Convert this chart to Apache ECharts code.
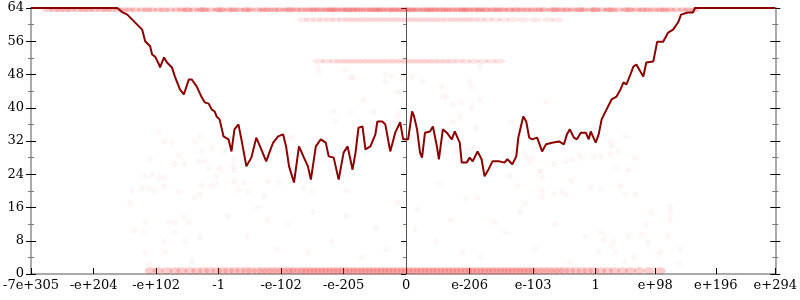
<!DOCTYPE html>
<html><head><meta charset="utf-8">
<script src="https://cdn.jsdelivr.net/npm/echarts@6/dist/echarts.min.js"></script>
<style>html,body{margin:0;padding:0;background:#fff}#c{width:800px;height:300px}</style>
</head><body><div id="c"></div>
<script>
// x tick positions (in bit-pattern units relative to 0) and their labels
const tickPos = [-378,-315,-252,-189,-126,-63,0,64,128,191,251,312,372];
const tickLabels = ['-7e+305','-e+204','-e+102','-1','-e-102','-e-205','0','e-206','e-103','1','e+98','e+196','e+294'];

// main line (dark red)
const lineX = [-378,-291,-286,-281,-276,-271,-266,-263,-258,-256,-253,-249,-248,-244,-241,-236,-233,-228,-224,-219,-216,-211,-206,-203,-199,-196,-193,-191,-188,-184,-179,-176,-173,-169,-166,-161,-156,-151,-146,-141,-136,-134,-129,-124,-121,-118,-113,-108,-103,-99,-96,-91,-86,-81,-78,-73,-68,-63,-59,-54,-51,-48,-44,-41,-36,-31,-29,-24,-21,-16,-11,-6,-3,2,6,8,11,14,16,19,24,27,31,33,37,41,46,49,54,56,61,64,67,72,76,79,82,87,94,99,102,107,111,113,118,121,124,127,132,137,141,147,154,159,162,165,169,172,176,181,184,186,191,194,197,202,207,212,216,219,222,226,229,232,236,239,242,249,253,259,264,269,274,277,284,289,291,372];
const lineY = [64,64,63.0,62.4,61.2,60.0,58.8,56.0,54.8,52.8,52.3,50.4,49.7,52.1,50.9,49.7,47.5,44.4,43.2,46.8,46.8,45.1,42.5,41.3,41.0,39.6,39.1,37.9,37.2,33.1,32.4,29.5,34.8,36.0,32.4,25.9,28.0,32.8,30.0,27.1,30.4,31.6,33.1,33.6,30.7,25.9,22.0,30.7,28.0,25.9,22.7,30.7,32.4,31.6,28.3,28.0,22.7,29.2,30.7,25.1,29.2,35.2,35.5,30.0,30.7,33.6,36.7,36.7,36.0,29.5,34.0,36.5,32.4,32.4,39.1,37.9,34.8,29.2,28.0,34.0,34.3,35.5,30.7,27.6,34.8,34.0,32.4,34.3,31.6,26.8,26.8,28.0,27.1,29.5,27.6,23.5,24.7,27.1,27.1,26.8,27.6,26.4,28.3,32.8,37.9,36.7,32.8,32.4,32.8,29.5,31.2,31.6,31.9,31.2,33.6,34.8,32.8,32.4,34.0,34.0,32.4,34.3,31.6,33.6,37.2,39.6,42.0,42.7,44.4,46.1,45.6,48.0,49.9,50.4,48.7,47.5,50.9,51.1,55.9,55.9,58.1,58.8,60.5,62.4,62.9,62.9,64,64];

// dense bands of samples
const bandTopY = 63.6;
const bandTopX = [-361,-354,-349,-343,-338,-331,-325,-320,-314,-307,-302,-297,-290,-284,-279,-273,-266,-261,-256,-249,-244,-238,-231,-226,-221,-214,-208,-203,-197,-190,-186,-179,-173,-168,-162,-157,-150,-145,-139,-134,-127,-121,-116,-111,-104,-99,-93,-87,-80,-75,-70,-63,-58,-52,-47,-40,-34,-29,-24,-17,-12,-6,0,5,11,18,23,28,35,40,46,53,58,63,70,75,81,88,92,98,105,110,116,121,128,133,139,146,151,156,163,168,174,179,186,191,197,203,208,214,221,226,232,237,244,249,255,261,266,272,279,284,290];
const bandTopX2 = [-220,-205,-188,-176,-160,-142,-130,-118,-107,-96,-90,-83,-77,-72,-66,-60,-55,-49,-43,-37,-31,-26,-20,-14,-9,-3,3,8,14,20,26,31,37,43,49,56,61,67,73,79,86,95,103,112,124,136,149,160,176,190,205,224,240,258];
const band61Y = 61.2;
const band61X = [-104,-97,-90,-84,-77,-71,-64,-58,-53,-47,-42,-36,-31,-25,-20,-14,-9,-3,2,8,13,19,24,30,35,41,47,52,58,63,69,75,82,90,98,107,118,130,143,152];
const band51Y = 51.2;
const band51X = [-88,-80,-72,-66,-60,-55,-49,-44,-38,-33,-27,-22,-16,-11,-5,0,6,11,17,22,28,34,40,46,53,60,68,77,86,94];
const bandLowY = 0.8;
const bandLowX = [-258,-250,-241,-233,-226,-218,-211,-204,-198,-191,-185,-179,-173,-167,-161,-156,-150,-145,-140,-135,-130,-125,-120,-116,-112,-107,-103,-99,-95,-91,-87,-83,-79,-75,-71,-67,-63,-59,-55,-51,-47,-43,-39,-35,-31,-27,-23,-19,-15,-11,-7,-3,1,5,9,13,17,21,25,29,33,37,41,45,49,53,57,61,65,69,73,77,81,85,89,93,97,101,105,109,113,117,121,125,129,134,139,144,149,154,159,165,171,177,183,189,196,203,210,218,226,235,245,256];

// sparse samples [x, y]
const sparsePts = [
[-278,17.0],[-263,12.6],[-274,10.5],[-264,10.0],[-239,12.6],[-233,12.4],[-224,13.6],[-219,12.4],[-233,10.0],[-244,7.8],[-223,7.8],[-208,8.8],[-263,5.2],[-243,5.2],[-216,3.0],[-259,2.3],
[-249,34.0],[-243,31.9],[-236,31.6],[-208,33.1],[-213,31.9],[-258,27.6],[-229,28.5],[-234,26.4],[-224,26.4],[-206,29.5],[-196,30.4],[-203,27.1],[-209,27.1],[-199,25.4],[-188,25.4],[-191,23.5],[-263,23.5],[-256,23.9],[-249,23.2],[-244,23.2],[-244,21.1],[-259,20.6],[-266,20.6],[-276,19.9],[-254,19.9],[-229,19.6],[-206,21.3],[-196,21.3],[-191,21.5],[-173,22.3],[-163,22.0],[-169,20.3],[-159,19.9],[-139,22.3],[-128,22.0],[-143,18.6],[-208,19.1],[-213,18.4],[-173,25.1],[-173,27.6],[-184,29.5],[-174,25.9],[-116,32.8],[-119,28.8],
[-103,20.8],[-94,19.9],[-43,42.0],[-73,38.9],[-56,38.9],[-71,36.7],[-33,38.9],[-6,39.1],[-9,37.9],[-33,35.2],
[-89,49.7],[-88,48.5],[-61,49.2],[-56,47.3],[-53,47.3],[-21,48.0],[-14,47.5],[-21,46.3],[6,47.3],[17,46.3],[-8,43.9],[36,45.1],[64,46.3],[74,49.9],[66,44.9],[37,42.7],[41,42.5],
[47,40.8],[56,41.3],[66,40.1],[74,42.0],[54,37.9],[47,36.5],[71,35.2],[61,30.0],[66,30.0],[106,36.5],[141,41.5],[119,29.2],[121,28.0],[127,28.0],[124,26.8],[136,24.7],[137,23.2],[149,26.4],[161,27.1],[167,27.6],[174,28.8],[177,28.0],[189,28.3],[197,28.3],[206,31.9],[207,30.7],[221,33.1],[214,29.5],[206,28.8],[212,25.6],[224,25.1],[231,28.0],[166,22.3],[186,20.8],[196,20.3],[216,21.1],[157,19.9],[161,19.1],[137,20.3],[149,19.1],[134,24.7],[112,21.1],[104,23.5],[137,18.6],[221,19.1],[231,19.1],[72,18.4],[34,21.5],[-4,46.8],
[196,10.0],[199,8.3],[209,7.8],[224,9.0],[237,9.5],[246,14.8],[266,16.2],[266,14.8],[266,13.1],[241,11.9],[264,9.0],[244,7.6],[257,5.4],[254,4.7],[276,5.9],[276,2.3],[207,6.6],[211,5.2],[221,3.0],[229,4.0],[194,5.4],
[-94,15.0],[11,15.5],[9,10.7],[57,5.2],[89,12.6],[-99,5.2],[-9,17.2],
[-180,14],[-160,9],[-150,16],[-130,6],[-120,12],[-75,8],[-60,14],[-45,4],[-30,11],[-20,6],[30,8],[45,13],[75,4],[100,10],[115,15],[130,6],[150,12],[165,3],[180,9],[120,17],[60,18],[-60,20],[-140,13]
];

const FONT = 'DejaVu Serif';
const band = (xs, y) => xs.map(x => [x, y]);

function yAx(pos, opts) {
  return Object.assign({
    type: 'value', position: pos, min: 0, max: 64, interval: 8,
    axisLine: { show: false, onZero: false },
    axisTick: { show: true, length: 5, inside: false, lineStyle: { color: '#000', width: 1 } },
    minorTick: { show: true, splitNumber: 2, length: 3, lineStyle: { color: '#777', width: 1 } },
    axisLabel: { show: false },
    splitLine: { show: false }
  }, opts);
}

const chart = echarts.init(document.getElementById('c'), null, { renderer: 'canvas' });
chart.setOption({
  animation: false,
  backgroundColor: '#fff',
  grid: { left: 28, right: 22, top: 8, bottom: 26, containLabel: false },
  xAxis: {
    type: 'value', min: -378, max: 372,
    axisLine: { show: true, onZero: false, lineStyle: { color: '#aaa', width: 2 } },
    axisTick: { show: true, inside: true, length: 6, customValues: tickPos, lineStyle: { color: '#000', width: 1 } },
    axisLabel: { show: true, customValues: tickPos, margin: 5, fontFamily: FONT, fontSize: 13, color: '#000',
      formatter: v => tickLabels[tickPos.indexOf(v)] },
    splitLine: { show: false }
  },
  yAxis: [
    yAx('left', { axisLine: { show: true, onZero: false, lineStyle: { color: '#aaa', width: 2 } },
      axisLabel: { show: true, margin: 7, fontFamily: FONT, fontSize: 13, color: '#000' } }),
    yAx('left', { axisTick: { show: true, length: 5, inside: true, lineStyle: { color: '#000', width: 1 } },
      minorTick: { show: true, splitNumber: 2, length: 3, lineStyle: { color: '#777', width: 1 } } }),
    yAx('right', { axisLine: { show: true, onZero: false, lineStyle: { color: '#aaa', width: 2 } } }),
    yAx('right', { axisTick: { show: true, length: 5, inside: true, lineStyle: { color: '#000', width: 1 } },
      minorTick: { show: true, splitNumber: 2, length: 3, lineStyle: { color: '#777', width: 1 } } }),
    yAx('left', { axisLine: { show: true, onZero: true, lineStyle: { color: '#555', width: 1 } } }),
    yAx('left', { axisLine: { show: false, onZero: true },
      axisTick: { show: true, length: 5, inside: true, lineStyle: { color: '#000', width: 1 } },
      minorTick: { show: true, splitNumber: 2, length: 3, lineStyle: { color: '#777', width: 1 } } })
  ],
  series: [
    { type: 'scatter', data: sparsePts, symbolSize: 6, itemStyle: { color: 'rgba(240,60,60,0.055)' }, silent: true, z: 1 },
    { type: 'scatter', data: band(bandLowX, bandLowY), symbolSize: [11, 7], itemStyle: { color: 'rgba(235,35,35,0.28)' }, silent: true, z: 1 },
    { type: 'scatter', data: band(band61X, band61Y), symbolSize: [12, 5], itemStyle: { color: 'rgba(235,40,40,0.13)' }, silent: true, z: 1 },
    { type: 'scatter', data: band(band51X, band51Y), symbolSize: [12, 5], itemStyle: { color: 'rgba(235,40,40,0.15)' }, silent: true, z: 1 },
    { type: 'scatter', data: band(bandTopX, bandTopY), symbolSize: [11, 5], itemStyle: { color: 'rgba(235,35,35,0.26)' }, silent: true, z: 1 },
    { type: 'scatter', data: band(bandTopX2, bandTopY), symbolSize: [11, 5], itemStyle: { color: 'rgba(235,35,35,0.2)' }, silent: true, z: 1 },
    { type: 'line', data: lineX.map((x, i) => [x, lineY[i]]), showSymbol: false, symbol: 'none',
      lineStyle: { color: '#8b0000', width: 2 }, z: 5, silent: true }
  ]
});
</script>
</body></html>
